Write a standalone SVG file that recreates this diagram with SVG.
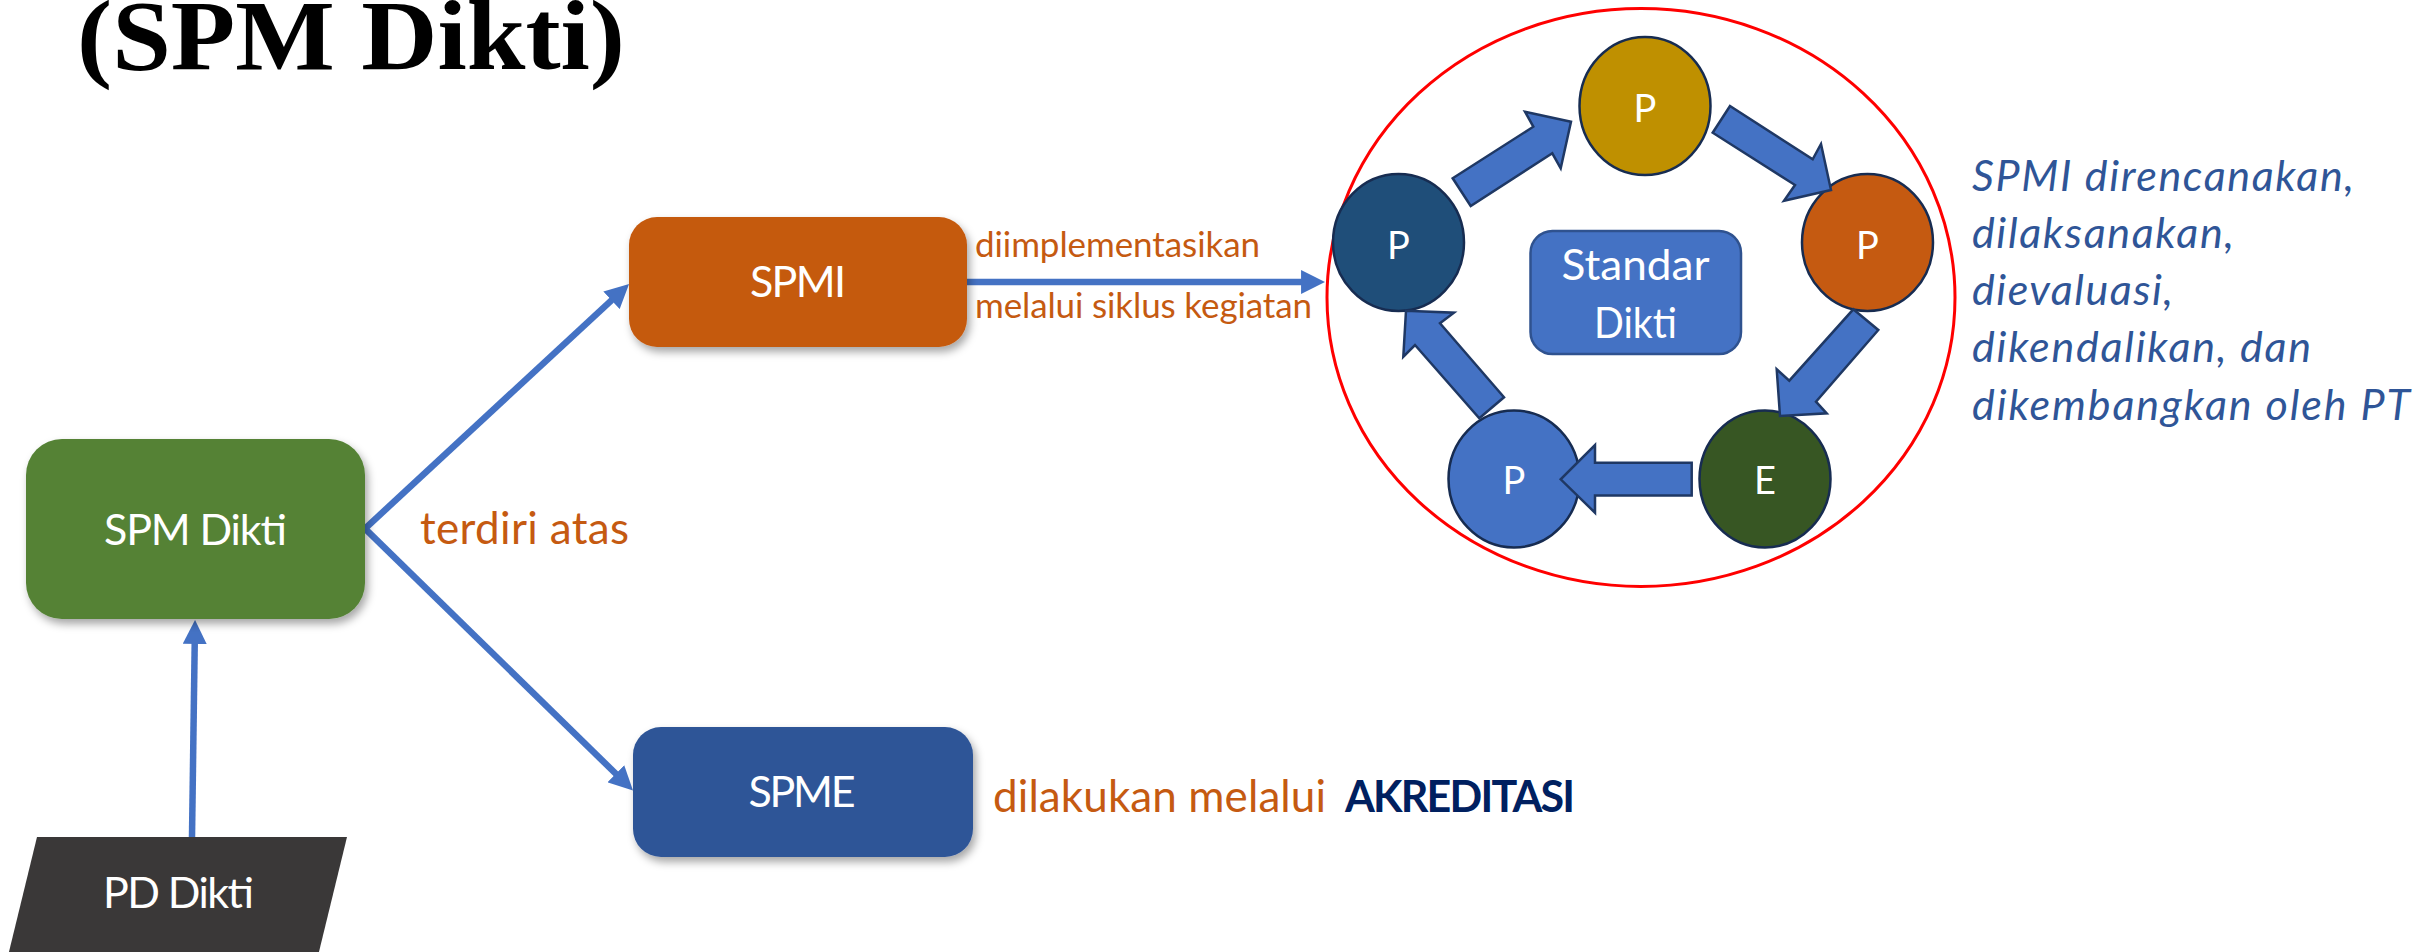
<svg xmlns="http://www.w3.org/2000/svg" width="2420" height="952" viewBox="0 0 2420 952">
<style>
.lbl{font-family:Lato,"Open Sans",sans-serif;fill:#fff}
.org{font-family:Lato,"Open Sans",sans-serif;fill:#C55A11}
.ital{font-family:Lato,"Open Sans",sans-serif;font-style:italic;fill:#2F5597;font-size:43px}
.conn{stroke:#4472C4;stroke-width:6.5;fill:none}
.ring{stroke:#172C51;stroke-width:2.5}
.barrow{fill:#4472C4;stroke:#1F3864;stroke-width:2.5;stroke-linejoin:miter}
</style>
<defs>
<marker id="ah" viewBox="0 0 10 10" refX="5.8" refY="5" markerWidth="24" markerHeight="24" markerUnits="userSpaceOnUse" orient="auto">
<path d="M0,0 L10,5 L0,10 z" fill="#4472C4"/>
</marker>
<filter id="sh" x="-10%" y="-10%" width="125%" height="130%">
<feDropShadow dx="3" dy="5" stdDeviation="4" flood-color="#000" flood-opacity="0.35"/>
</filter>
</defs>
<rect width="2420" height="952" fill="#fff"/>
<text x="77" y="69" font-family="'Liberation Serif',serif" font-weight="bold" font-size="100" textLength="548" lengthAdjust="spacingAndGlyphs" fill="#000">(SPM Dikti)</text>

<g id="connectors">
<path class="conn" d="M365,528.6 L621.7,290.8" marker-end="url(#ah)"/>
<path class="conn" d="M365,528.6 L625.8,783.5" marker-end="url(#ah)"/>
<path class="conn" d="M192,837 L194.9,630" marker-end="url(#ah)"/>
<path class="conn" d="M967,282 L1315,282" marker-end="url(#ah)"/>
</g>

<g id="spm-dikti">
<rect x="26" y="439" width="339" height="180" rx="36" fill="#548235" filter="url(#sh)"/>
<text class="lbl" x="195.5" y="545" font-size="43" text-anchor="middle" textLength="183">SPM Dikti</text>
</g>
<g id="pd-dikti">
<polygon points="37,837 347,837 317,960 7,960" fill="#3A3838"/>
<text class="lbl" x="103" y="908" font-size="43" textLength="151">PD Dikti</text>
</g>
<text class="org" x="420" y="544" font-size="44" textLength="209">terdiri atas</text>

<g id="spmi">
<rect x="629" y="217" width="338" height="130" rx="28" fill="#C55A11" filter="url(#sh)"/>
<text class="lbl" x="798" y="297" font-size="43" text-anchor="middle" textLength="96">SPMI</text>
</g>
<text class="org" x="975" y="257" font-size="35" textLength="285">diimplementasikan</text>
<text class="org" x="975" y="318" font-size="35" textLength="337">melalui siklus kegiatan</text>

<g id="spme">
<rect x="633" y="727" width="340" height="130" rx="28" fill="#2F5597" filter="url(#sh)"/>
<text class="lbl" x="802" y="807" font-size="43" text-anchor="middle" textLength="107">SPME</text>
</g>
<text class="org" x="993" y="812" font-size="44" textLength="333">dilakukan melalui</text>
<text x="1345" y="812" font-family="Lato,'Open Sans',sans-serif" font-weight="bold" font-size="43" fill="#002060" textLength="230">AKREDITASI</text>

<g id="cycle">
<ellipse cx="1641" cy="297.5" rx="314" ry="289" fill="none" stroke="#FF0000" stroke-width="3"/>
<g id="p-top"><ellipse class="ring" cx="1645" cy="106" rx="65.5" ry="69" fill="#BF9000"/>
<text class="lbl" x="1645" y="122" font-size="38" text-anchor="middle">P</text></g>
<g id="p-right"><ellipse class="ring" cx="1867.5" cy="242.5" rx="65.5" ry="68.5" fill="#C55A11"/>
<text class="lbl" x="1867.5" y="258.5" font-size="38" text-anchor="middle">P</text></g>
<g id="e-node"><ellipse class="ring" cx="1765" cy="479" rx="65.5" ry="68.5" fill="#375623"/>
<text class="lbl" x="1765" y="494" font-size="38" text-anchor="middle">E</text></g>
<g id="p-bottom"><ellipse class="ring" cx="1514" cy="479" rx="65.5" ry="68.5" fill="#4472C4"/>
<text class="lbl" x="1514" y="494" font-size="38" text-anchor="middle">P</text></g>
<g id="p-left"><ellipse class="ring" cx="1398.5" cy="242.5" rx="65.5" ry="68.5" fill="#1F4E79"/>
<text class="lbl" x="1398.5" y="258.5" font-size="38" text-anchor="middle">P</text></g>
<g id="standar">
<rect x="1530.5" y="231" width="210.5" height="123" rx="22" fill="#4472C4" stroke="#2F528F" stroke-width="2.5"/>
<text class="lbl" x="1635.5" y="279.5" font-size="43" text-anchor="middle" textLength="148" lengthAdjust="spacingAndGlyphs">Standar</text>
<text class="lbl" x="1635.5" y="337.5" font-size="43" text-anchor="middle" textLength="83" lengthAdjust="spacingAndGlyphs">Dikti</text>
</g>
<g id="cycle-arrows">
<polygon class="barrow" points="1452.7,178.3 1533.3,126.7 1525,111.7 1571,121.7 1560.7,168.3 1552.3,153.3 1470.7,206"/>
<polygon class="barrow" points="1730,106 1812.7,159.3 1821,144 1831,190 1784,200.7 1795,185 1712.7,132.7"/>
<polygon class="barrow" points="1853.3,309.3 1878.3,330 1816,401.7 1826.7,413.3 1780,416 1776.7,369.3 1789.3,380.7"/>
<polygon class="barrow" points="1691.7,462.7 1595,462.7 1595,445 1560.7,479.3 1595,512.7 1595,495.5 1691.7,495.5"/>
<polygon class="barrow" points="1504,397.3 1440,323.3 1454,312.7 1406,310.7 1403.3,356.7 1415,345 1479.3,418.3"/>
</g>
</g>

<g id="note">
<text class="ital" x="1972" y="191" textLength="382">SPMI direncanakan,</text>
<text class="ital" x="1972" y="248" textLength="262">dilaksanakan,</text>
<text class="ital" x="1972" y="305" textLength="201">dievaluasi,</text>
<text class="ital" x="1972" y="362" textLength="339">dikendalikan, dan</text>
<text class="ital" x="1972" y="420" textLength="438">dikembangkan oleh PT</text>
</g>
</svg>
